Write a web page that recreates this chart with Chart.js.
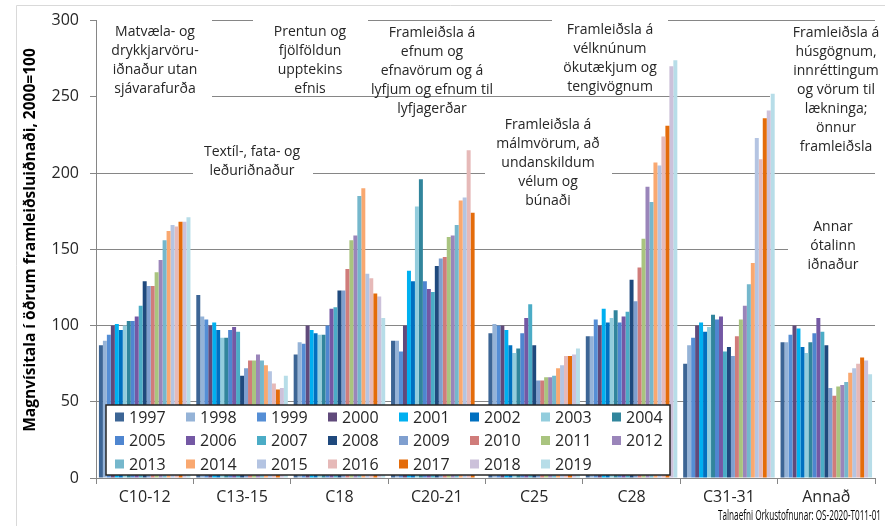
<!DOCTYPE html>
<html>
<head>
<meta charset="utf-8">
<script src="https://cdn.jsdelivr.net/npm/chart.js@4.4.0/dist/chart.umd.min.js"></script>
<style>
  body { margin: 0; background: #fff; }
  #wrap { width: 891px; height: 526px; }
</style>
</head>
<body>
<div id="wrap"><canvas id="chart" width="891" height="526"></canvas></div>
<script>
const categories = ["C10-12", "C13-15", "C18", "C20-21", "C25", "C28", "C31-31", "Annað"];
const years = ["1997", "1998", "1999", "2000", "2001", "2002", "2003", "2004", "2005", "2006", "2007", "2008",
  "2009", "2010", "2011", "2012", "2013", "2014", "2015", "2016", "2017", "2018", "2019"];
const yTicks = [0, 50, 100, 150, 200, 250, 300];

// index values per branch, one entry per year 1997..2019
const c10_12 = [87, 90, 94, 100, 101, 97, 100, 103, 103, 106, 113, 129, 126, 126, 135, 143, 156, 162, 166, 165, 168, 168, 171];
const c13_15 = [120, 106, 104, 100, 102, 97, 92, 92, 97, 99, 96, 67, 72, 77, 77, 81, 77, 74, 70, 62, 58, 59, 67];
const c18 = [81, 89, 88, 100, 97, 95, 94, 94, 100, 111, 112, 123, 123, 137, 156, 159, 185, 190, 134, 131, 121, 119, 105];
const c20_21 = [90, 90, 83, 100, 136, 129, 178, 196, 129, 124, 122, 139, 144, 145, 158, 159, 166, 182, 184, 215, 174, null, null];
const c25 = [95, 101, 100, 100, 97, 87, 82, 85, 95, 105, 114, 87, 64, 64, 66, 66, 67, 72, 74, 80, 80, 81, 85];
const c28 = [93, 93, 104, 100, 111, 102, 105, 110, 102, 106, 109, 130, 116, 138, 157, 191, 181, 207, 205, 224, 231, 270, 274];
const c31_31 = [75, 87, 92, 100, 102, 96, 99, 107, 104, 106, 83, 86, 80, 93, 104, 113, 127, 141, 223, 209, 236, 241, 252];
const annad = [89, 89, 94, 100, 98, 86, 82, 89, 95, 105, 96, 87, 59, 54, 60, 61, 63, 69, 72, 75, 79, 77, 68];

const branches = [c10_12, c13_15, c18, c20_21, c25, c28, c31_31, annad];

const yearColors = ["#3C6595", "#95B3D7", "#558ED5", "#604A7B", "#00B0F0", "#0070C0", "#93CDDD", "#31859C",
  "#4F86D0", "#7458A4", "#4BACC6", "#1F497D", "#7F9FCF", "#D07C7A", "#A9C47F", "#9A85BA",
  "#75B7CC", "#F9A870", "#B4C4E2", "#E6B9B8", "#E46C0A", "#CCC1DA", "#B7DDE8"];

// text boxes describing each branch; box = white area hiding the gridlines behind the text
const notes = [
  { x: 155, y: 32, lines: ["Matvæla- og", "drykkjarvöru-", "iðnaður utan", "sjávarafurða"], box: [97, 10, 212, 100] },
  { x: 252, y: 152, lines: ["Textíl-, fata- og", "leðuriðnaður"], box: [193, 140, 313, 180] },
  { x: 310, y: 32, lines: ["Prentun og", "fjölföldun", "upptekins", "efnis"], box: [253, 10, 368, 92] },
  { x: 432, y: 33, lines: ["Framleiðsla á", "efnum og", "efnavörum og á", "lyfjum og efnum til", "lyfjagerðar"], box: null },
  { x: 548, y: 125, lines: ["Framleiðsla á", "málmvörum, að", "undanskildum", "vélum og", "búnaði"], box: [485, 112, 612, 210] },
  { x: 610, y: 30, lines: ["Framleiðsla á", "vélknúnum", "ökutækjum og", "tengivögnum"], box: [552, 10, 668, 92] },
  { x: 836, y: 33, lines: ["Framleiðsla á", "húsgögnum,", "innréttingum", "og vörum til", "lækninga;", "önnur", "framleiðsla"], box: [770, 24, 875, 158] },
  { x: 833, y: 227, lines: ["Annar", "ótalinn", "iðnaður"], box: [788, 215, 875, 274] }
];

const yTitle = "Magnvísitala í öðrum framleiðsluiðnaði, 2000=100";
const source = "Talnaefni Orkustofnunar: OS-2020-T011-01";

const FONT = '"Open Sans", "Noto Sans", sans-serif';
const GRID = "#868686";

const datasets = years.map((yr, i) => ({
  label: yr,
  data: branches.map((b) => b[i]),
  backgroundColor: yearColors[i],
  borderWidth: 0,
  barPercentage: 1.0,
  categoryPercentage: 0.94
}));

// frame, axis title, notes and the boxed legend
const decorations = {
  id: "decorations",
  beforeDraw(chart) {
    const ctx = chart.ctx;
    ctx.save();
    ctx.strokeStyle = "#D9D9D9";
    ctx.lineWidth = 1;
    ctx.beginPath();
    ctx.moveTo(16.5, 526);
    ctx.lineTo(16.5, 5.5);
    ctx.lineTo(885, 5.5);
    ctx.stroke();

    ctx.translate(31, 240);
    ctx.rotate(-Math.PI / 2);
    ctx.font = "bold 15.5px " + FONT;
    ctx.fillStyle = "#000";
    ctx.textAlign = "center";
    ctx.textBaseline = "middle";
    ctx.fillText(yTitle, 0, 0);
    ctx.restore();

    // source line, squeezed to its fixed width
    ctx.save();
    ctx.font = '14px "Liberation Sans Narrow", "Open Sans", sans-serif';
    const w = ctx.measureText(source).width;
    const sx = 163 / w;
    ctx.translate(881, 516);
    ctx.scale(sx, 1);
    ctx.fillStyle = "#000";
    ctx.textAlign = "right";
    ctx.textBaseline = "middle";
    ctx.fillText(source, 0, 0);
    ctx.restore();
  },
  beforeDatasetsDraw(chart) {
    const ctx = chart.ctx;
    ctx.save();
    notes.forEach((n) => {
      if (n.box) {
        ctx.fillStyle = "#fff";
        ctx.fillRect(n.box[0], n.box[1], n.box[2] - n.box[0], n.box[3] - n.box[1]);
      }
    });
    ctx.font = "14px " + FONT;
    ctx.fillStyle = "#262626";
    ctx.textAlign = "center";
    ctx.textBaseline = "middle";
    notes.forEach((n) => {
      n.lines.forEach((t, k) => ctx.fillText(t, n.x, n.y + k * 19));
    });
    ctx.restore();
  },
  afterDatasetsDraw(chart) {
    const ctx = chart.ctx;
    const left = 106, top = 405, right = 670, bottom = 475;
    ctx.save();
    ctx.fillStyle = "#fff";
    ctx.fillRect(left, top, right - left, bottom - top);
    ctx.strokeStyle = "#262626";
    ctx.lineWidth = 1.5;
    ctx.strokeRect(left, top, right - left, bottom - top);
    ctx.font = "16px " + FONT;
    ctx.textBaseline = "middle";
    ctx.textAlign = "left";
    chart.data.datasets.forEach((ds, i) => {
      const col = i % 8, row = Math.floor(i / 8);
      const x = 115 + col * 71;
      const y = 417 + row * 23.5;
      ctx.fillStyle = ds.backgroundColor;
      ctx.fillRect(x, y - 4.5, 9, 9);
      ctx.fillStyle = "#262626";
      ctx.fillText(ds.label, x + 14, y + 1);
    });
    ctx.restore();
  }
};

new Chart(document.getElementById("chart"), {
  type: "bar",
  data: { labels: categories, datasets: datasets },
  options: {
    responsive: false,
    animation: false,
    layout: { padding: { left: 0, right: 16, top: 18, bottom: 0 } },
    plugins: { legend: { display: false }, tooltip: { enabled: false } },
    scales: {
      x: {
        offset: true,
        grid: { offset: true, drawOnChartArea: false, tickLength: 6, color: GRID },
        border: { color: GRID },
        ticks: { font: { family: FONT, size: 16 }, color: "#262626", padding: 4, maxRotation: 0 },
        afterFit: (s) => { s.height = 48; }
      },
      y: {
        min: 0,
        max: 300,
        afterBuildTicks: (s) => { s.ticks = yTicks.map((v) => ({ value: v })); },
        grid: { color: GRID, tickLength: 6 },
        border: { color: GRID },
        ticks: { font: { family: FONT, size: 16 }, color: "#262626", padding: 11 },
        afterFit: (s) => { s.width = 96; }
      }
    }
  },
  plugins: [decorations]
});
</script>
</body>
</html>
